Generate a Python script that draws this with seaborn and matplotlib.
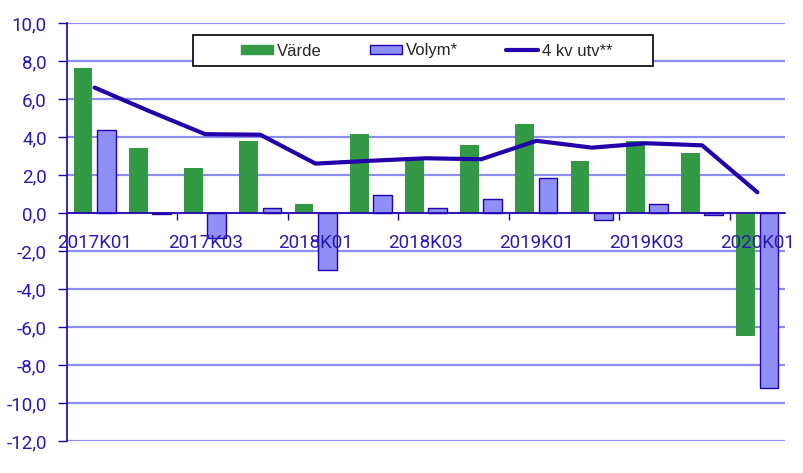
import numpy as np
import pandas as pd
import matplotlib
matplotlib.use("Agg")
import matplotlib.pyplot as plt
from matplotlib.patches import Rectangle, Patch
from matplotlib.lines import Line2D
from matplotlib.ticker import FuncFormatter, FixedLocator
import seaborn as sns

quarters = ["2017K01", "2017K02", "2017K03", "2017K04",
            "2018K01", "2018K02", "2018K03", "2018K04",
            "2019K01", "2019K02", "2019K03", "2019K04",
            "2020K01"]
varde = [7.63, 3.44, 2.37, 3.79, 0.47, 4.16, 2.79, 3.58, 4.68, 2.74, 3.79, 3.16, -6.46]
volym = [4.35, -0.05, -1.30, 0.25, -3.00, 0.93, 0.25, 0.72, 1.82, -0.39, 0.47, -0.12, -9.23]
kv_utv = [6.60, 5.35, 4.15, 4.12, 2.60, 2.75, 2.88, 2.83, 3.80, 3.44, 3.67, 3.56, 1.09]

series_names = ["Värde", "Volym*"]
line_name = "4 kv utv**"

GREEN = "#339944"
LBLUE = "#8F8FF5"
EDGE = "#2200B0"
LINE = "#2200AA"
GRID = "#8C8CF0"
TXT = "#2A1AB0"

sns.set_style("white")
plt.rcParams["font.family"] = ["Roboto", "DejaVu Sans"]

df = pd.DataFrame({
    "quarter": quarters * 2,
    "value": varde + volym,
    "series": [series_names[0]] * len(quarters) + [series_names[1]] * len(quarters),
})

fig = plt.figure(figsize=(8.04, 4.73), dpi=100)
ax = fig.add_axes([67 / 804, 32 / 473, 718 / 804, 418 / 473])

yt = np.arange(-12, 11, 2)
# horizontal gridlines (styling), behind everything
for v in yt:
    ax.axhline(v, color=GRID, linewidth=1.6, zorder=0.3)

sns.barplot(data=df, x="quarter", y="value", hue="series", order=quarters,
            hue_order=series_names, palette={series_names[0]: GREEN, series_names[1]: LBLUE},
            width=0.84, gap=0.19, errorbar=None, legend=False, saturation=1,
            ax=ax, zorder=1)

for cont, ec, lw in zip(ax.containers, [GREEN, EDGE], [0, 1.0]):
    for p in cont:
        p.set_edgecolor(ec)
        p.set_linewidth(lw)

sns.lineplot(x=np.arange(len(quarters)), y=kv_utv, color=LINE, linewidth=3.0,
             ax=ax, zorder=3)

ax.set_xlim(-0.5, len(quarters) - 0.5)
ax.set_ylim(-12, 10)
ax.set_xlabel("")
ax.set_ylabel("")
ax.grid(False)
ax.set_axisbelow(False)

ax.set_yticks(yt)
ax.yaxis.set_major_formatter(FuncFormatter(lambda v, p: f"{v:.1f}".replace(".", ",")))
ax.tick_params(axis="y", which="major", length=6.5, width=1, color=EDGE, pad=8,
               labelsize=13.5, labelcolor=TXT, left=True)

major = list(range(0, len(quarters), 2))
ax.xaxis.set_major_locator(FixedLocator(major))
ax.set_xticklabels([quarters[i] for i in major])
ax.xaxis.set_minor_locator(FixedLocator([i + 1.5 for i in range(0, len(quarters) - 2, 2)]))
ax.tick_params(axis="x", which="major", length=0, pad=15, labelsize=13.5, labelcolor=TXT,
               bottom=True)
ax.tick_params(axis="x", which="minor", length=5, width=1, color=EDGE, bottom=True)

for s in ["top", "right"]:
    ax.spines[s].set_visible(False)
ax.spines["left"].set_color(EDGE)
ax.spines["left"].set_linewidth(1.2)
ax.spines["bottom"].set_position(("data", 0))
ax.spines["bottom"].set_color(EDGE)
ax.spines["bottom"].set_linewidth(1.2)

handles = [Patch(facecolor=GREEN, edgecolor=GREEN),
           Patch(facecolor=LBLUE, edgecolor=EDGE, linewidth=1.0),
           Line2D([0], [0], color=LINE, linewidth=3.0)]
leg = ax.legend(handles, [series_names[0], series_names[1], line_name], ncol=3,
                loc="center", bbox_to_anchor=((427 - 67) / 718, (441 - 51) / 418),
                frameon=False, handlelength=1.9, handleheight=0.5, handletextpad=0.25,
                columnspacing=2.9, prop={"family": ["Liberation Sans", "DejaVu Sans"], "size": 12})
leg.set_zorder(6)
ax.add_patch(Rectangle(((193 - 67) / 718, (441 - 66) / 418), (653 - 193) / 718, 31 / 418,
                       transform=ax.transAxes, facecolor="white", edgecolor="black",
                       linewidth=1.2, zorder=5))

fig.savefig("out.png", dpi=100)
